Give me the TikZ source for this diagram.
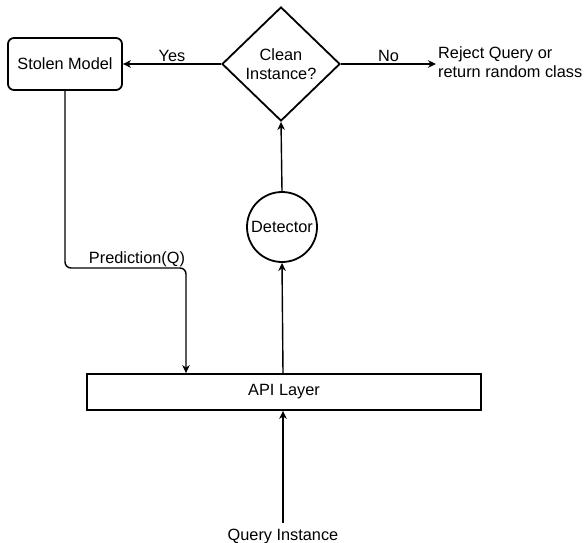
\documentclass[tikz,border=0pt]{standalone}
\usepackage{fontspec}
\setmainfont{Liberation Sans}
\usetikzlibrary{shapes.geometric,arrows.meta}
\begin{document}
\begin{tikzpicture}[x=1pt,y=-1pt,
  every node/.style={font=\fontsize{16.3}{19.4}\selectfont, inner sep=0pt},
  shapebox/.style={draw, line width=1.8pt},
  conn/.style={line width=1.4pt, -{Stealth[length=8pt,width=7.5pt,inset=2.5pt]}}]
\useasboundingbox (0,0) rectangle (586,543);
\node[shapebox, rounded corners=6pt, minimum width=114pt, minimum height=52pt] (stolen) at (65,64) {Stolen Model};
\node[shapebox, diamond, minimum width=118pt, minimum height=114pt, align=center] (clean) at (281,64) {Clean\\Instance?};
\node[anchor=west, align=left] (reject) at (438,62) {Reject Query or\\return random class};
\node[shapebox, circle, minimum size=70pt] (det) at (282,227) {Detector};
\node[shapebox, minimum width=394pt, minimum height=36pt] (api) at (284,392) {API Layer};
\node[anchor=base] (query) at (283,540) {Query Instance};
\coordinate (q) at (283,523);
\coordinate (p1) at (186,268);
\draw[conn] (clean.west) -- node[above=2pt] {Yes} (stolen.east);
\draw[conn] (clean.east) -- node[above=2pt] {No} (clean.east -| 436,0);
\draw[conn] (det.north) -- (clean.south);
\draw[conn] (api.north -| q) -- (det.south);
\draw[conn] (q) -- (api.south -| q);
\draw[conn, rounded corners=6pt] (stolen.south) |- (p1) -- (api.north -| p1);
\node[anchor=base] (pred) at (137,263) {Prediction(Q)};
\end{tikzpicture}
\end{document}
